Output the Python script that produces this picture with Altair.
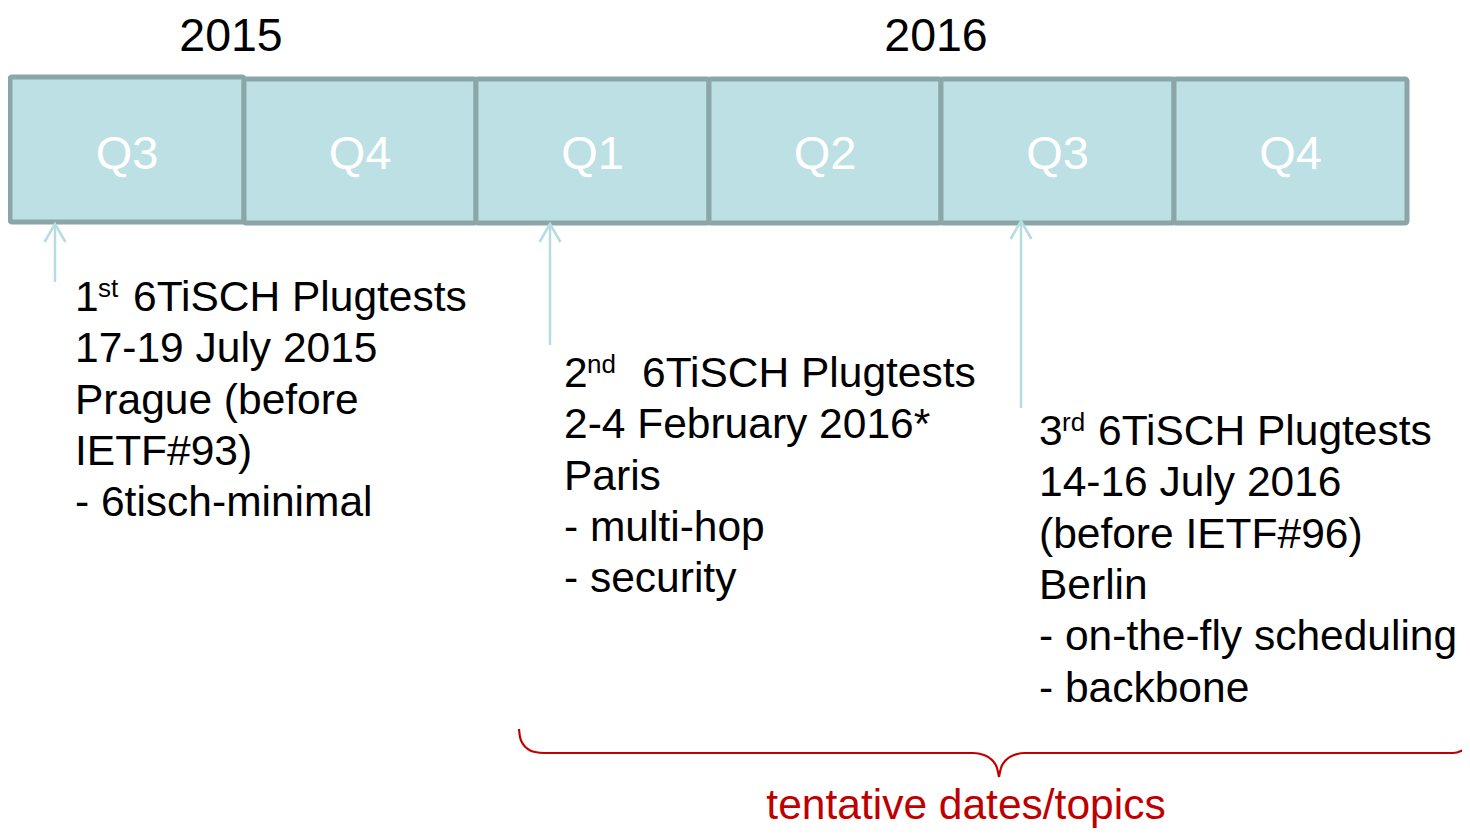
import altair as alt
import pandas as pd

FONT = "Liberation Sans"

# ---- layout coordinate space (reference pixels) ----
CHART_W = 1454
CHART_H = 821
X_DOMAIN = [8, 8 + CHART_W]
Y_DOMAIN = [8, 8 + CHART_H]

# ---- year labels ----
years = ["2015", "2016"]
year_x = [231, 936]
year_y = [51, 51]

# ---- quarter boxes ----
quarters = ["Q3", "Q4", "Q1", "Q2", "Q3", "Q4"]
q_start = [10, 244, 476, 709, 941, 1174]
q_end = [244, 476, 709, 941, 1174, 1407]
q_top = [77, 79, 79, 79, 79, 79]
q_bottom = [222, 223, 223, 223, 223, 223]
q_label_y = 169

# ---- event arrows ----
arrow_x = [55, 550, 1021]
arrow_top = [224, 224, 221]
arrow_bottom = [282, 345, 408]

# ---- event texts ----
ordinal_num = ["1", "2", "3"]
ordinal_sup = ["st", "nd", "rd"]
ordinal_x = [75, 564, 1039]
sup_x = [98, 587, 1062]
title_x = [133, 642, 1098]
title_text = ["6TiSCH Plugtests", "6TiSCH Plugtests", "6TiSCH Plugtests"]
first_baseline = [311, 387, 445]
line_gap = 51.3

detail_lines = [
    ["17-19 July 2015", "Prague (before", "IETF#93)", "- 6tisch-minimal"],
    ["2-4 February 2016*", "Paris", "- multi-hop", "- security"],
    ["14-16 July 2016", "(before IETF#96)", "Berlin", "- on-the-fly scheduling", "- backbone"],
]

# ---- brace ----
brace_left_x = [519, 520, 523, 528, 535, 544, 973, 984, 992, 997, 999]
brace_left_y = [729, 737, 744, 749, 752, 753, 753, 755, 760, 768, 777]
brace_right_x = [999, 1001, 1006, 1014, 1025, 1453, 1461, 1466, 1470]
brace_right_y = [777, 768, 760, 755, 753, 753, 751, 747, 741]
brace_label = "tentative dates/topics"
brace_label_x = 966
brace_label_y = 819

# ---- build tables ----
xs = alt.Scale(domain=X_DOMAIN, nice=False, zero=False)
ys = alt.Scale(domain=Y_DOMAIN, nice=False, zero=False, reverse=True)
X = alt.X("x:Q", scale=xs, axis=None)
Y = alt.Y("y:Q", scale=ys, axis=None)

df_years = pd.DataFrame({"x": year_x, "y": year_y, "t": years})
df_boxes = pd.DataFrame({"x": q_start, "x2": q_end, "y": q_top, "y2": q_bottom, "q": quarters})
df_boxes["cx"] = [(a + b) / 2 for a, b in zip(q_start, q_end)]
df_boxes["ly"] = q_label_y
df_arrows = pd.DataFrame({"x": arrow_x, "y": arrow_top, "y2": arrow_bottom})

df_num = pd.DataFrame({"x": ordinal_x, "y": first_baseline, "t": ordinal_num})
df_sup = pd.DataFrame({"x": sup_x, "y": [b - 14 for b in first_baseline], "t": ordinal_sup})
df_title = pd.DataFrame({"x": title_x, "y": first_baseline, "t": title_text})
rows = []
for i, lines in enumerate(detail_lines):
    for j, line in enumerate(lines):
        rows.append({"x": ordinal_x[i], "y": first_baseline[i] + (j + 1) * line_gap, "t": line})
df_lines = pd.DataFrame(rows)

df_brace = pd.DataFrame(
    {"x": brace_left_x + brace_right_x,
     "y": brace_left_y + brace_right_y,
     "part": ["L"] * len(brace_left_x) + ["R"] * len(brace_right_x)}
)
df_brace_label = pd.DataFrame({"x": [brace_label_x], "y": [brace_label_y], "t": [brace_label]})

base_text = dict(font=FONT, baseline="alphabetic")
BODY = 42.5

year_layer = alt.Chart(df_years).mark_text(fontSize=46.5, color="black", align="center", **base_text).encode(
    x=X, y=Y, text="t:N")

box_layer = alt.Chart(df_boxes).mark_rect(fill="#bce0e3", stroke="#8aa6a8", strokeWidth=5,
                                          cornerRadius=2).encode(
    x=X, x2="x2:Q", y=Y, y2="y2:Q")

qlabel_layer = alt.Chart(df_boxes).mark_text(fontSize=47, color="white", align="center", **base_text).encode(
    x=alt.X("cx:Q", scale=xs, axis=None), y=alt.Y("ly:Q", scale=ys, axis=None), text="q:N")

arrow_line = alt.Chart(df_arrows).mark_rule(color="#b5dde0", strokeWidth=2.5).encode(
    x=X, y=Y, y2="y2:Q")
arrow_head = alt.Chart(df_arrows).mark_point(shape="M -0.58 1 L 0 0 L 0.58 1", filled=False,
                                             color="#b5dde0", strokeWidth=2.5, size=1296,
                                             opacity=1).encode(x=X, y=Y)

num_layer = alt.Chart(df_num).mark_text(fontSize=BODY, color="black", align="left", **base_text).encode(
    x=X, y=Y, text="t:N")
sup_layer = alt.Chart(df_sup).mark_text(fontSize=26, color="black", align="left", **base_text).encode(
    x=X, y=Y, text="t:N")
title_layer = alt.Chart(df_title).mark_text(fontSize=BODY, color="black", align="left", **base_text).encode(
    x=X, y=Y, text="t:N")
lines_layer = alt.Chart(df_lines).mark_text(fontSize=BODY, color="black", align="left", **base_text).encode(
    x=X, y=Y, text="t:N")

brace_layer = alt.Chart(df_brace).mark_line(color="#c00000", strokeWidth=2.2,
                                            interpolate="monotone").encode(
    x=X, y=Y, detail="part:N", order="x:Q")
brace_text = alt.Chart(df_brace_label).mark_text(fontSize=BODY, color="#c00000", align="center",
                                                 **base_text).encode(x=X, y=Y, text="t:N")

chart = alt.layer(
    box_layer, qlabel_layer, year_layer, arrow_line, arrow_head,
    num_layer, sup_layer, title_layer, lines_layer, brace_layer, brace_text
).properties(
    width=CHART_W,
    height=CHART_H,
    autosize=alt.AutoSizeParams(type="none"),
    padding=0,
    background="white",
).configure_view(stroke=None)

chart.save("out.html", embed_options={"renderer": "svg", "actions": False})
